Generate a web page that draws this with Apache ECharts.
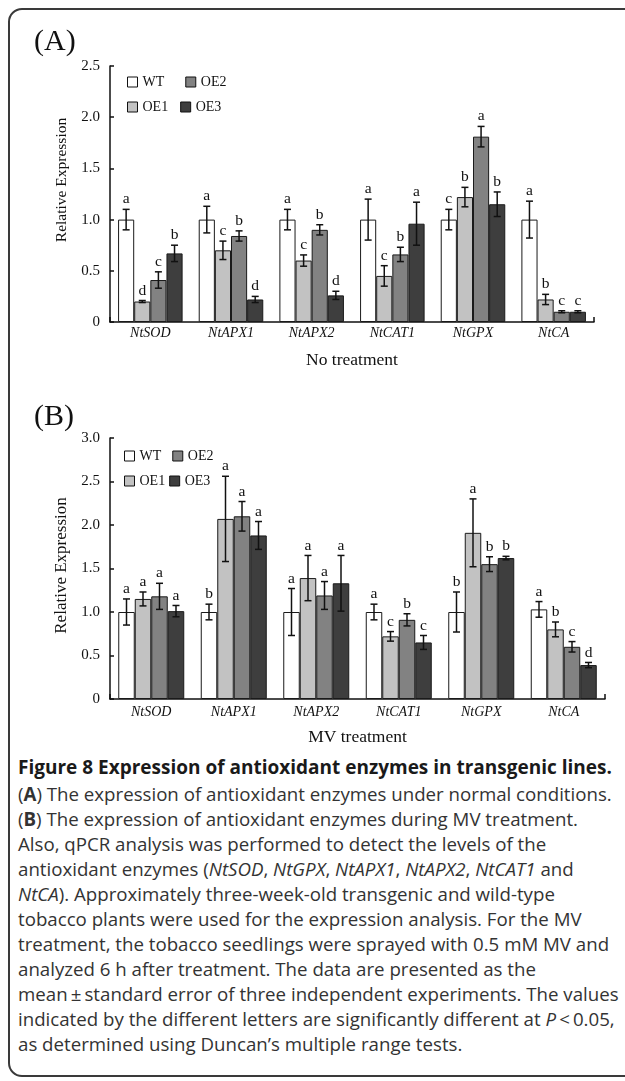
<!DOCTYPE html>
<html><head><meta charset="utf-8">
<script src="https://cdn.jsdelivr.net/npm/echarts@6/dist/echarts.min.js"></script>
<style>
html,body{margin:0;padding:0;background:#fff;width:625px;height:1081px;overflow:hidden;}
#frame{position:absolute;left:8px;top:8px;width:680px;height:1069px;border:2px solid #3a3a3a;border-radius:14px;box-sizing:border-box;}
#chart{position:absolute;left:0;top:0;width:625px;height:750px;}
#capHead{position:absolute;left:18px;top:754.5px;font-family:'Open Sans';font-weight:bold;color:#1a1a1a;white-space:nowrap;font-size:16px;line-height:25px;}
#capBody{position:absolute;left:18px;top:780.5px;font-family:'Open Sans';color:#333;white-space:nowrap;font-size:16px;line-height:25px;}
#capBody div,#capHead div{height:25px;}
</style></head><body>
<div id="frame"></div>
<div id="chart"></div>
<div id="capHead"><div><span id="hl">Figure 8 Expression of antioxidant enzymes in transgenic lines.</span></div></div>
<div id="capBody">
<div><span id="l1">(<b>A</b>) The expression of antioxidant enzymes under normal conditions.</span></div>
<div>(<b>B</b>) The expression of antioxidant enzymes during MV treatment.</div>
<div>Also, qPCR analysis was performed to detect the levels of the</div>
<div>antioxidant enzymes (<i>NtSOD</i>, <i>NtGPX</i>, <i>NtAPX1</i>, <i>NtAPX2</i>, <i>NtCAT1</i> and</div>
<div><i>NtCA</i>). Approximately three-week-old transgenic and wild-type</div>
<div>tobacco plants were used for the expression analysis. For the MV</div>
<div>treatment, the tobacco seedlings were sprayed with 0.5 mM MV and</div>
<div>analyzed 6 h after treatment. The data are presented as the</div>
<div>mean&thinsp;±&thinsp;standard error of three independent experiments. The values</div>
<div>indicated by the different letters are significantly different at <i>P</i>&thinsp;&lt;&thinsp;0.05,</div>
<div>as determined using Duncan’s multiple range tests.</div>
</div>
<script>
// ---------- data ----------
const categories = ['NtSOD', 'NtAPX1', 'NtAPX2', 'NtCAT1', 'NtGPX', 'NtCA'];
const lineNames = ['WT', 'OE1', 'OE2', 'OE3'];
const yTicksA = ['0', '0.5', '1.0', '1.5', '2.0', '2.5'];
const yTicksB = ['0', '0.5', '1.0', '1.5', '2.0', '2.5', '3.0'];

// (A) No treatment
const aWT  = [1.00, 1.00, 1.00, 1.00, 1.00, 1.00];
const aOE1 = [0.20, 0.70, 0.60, 0.45, 1.22, 0.22];
const aOE2 = [0.41, 0.84, 0.90, 0.66, 1.81, 0.10];
const aOE3 = [0.67, 0.22, 0.26, 0.96, 1.15, 0.10];
const aWTErr  = [0.10, 0.13, 0.10, 0.20, 0.10, 0.18];
const aOE1Err = [0.01, 0.09, 0.055, 0.10, 0.095, 0.05];
const aOE2Err = [0.08, 0.05, 0.05, 0.07, 0.10, 0.01];
const aOE3Err = [0.08, 0.03, 0.04, 0.21, 0.12, 0.01];
const aWTSig  = ['a', 'a', 'a', 'a', 'c', 'a'];
const aOE1Sig = ['d', 'c', 'c', 'c', 'b', 'b'];
const aOE2Sig = ['c', 'b', 'b', 'b', 'a', 'c'];
const aOE3Sig = ['b', 'd', 'd', 'a', 'b', 'c'];

// (B) MV treatment
const bWT  = [1.00, 1.00, 1.00, 1.00, 1.00, 1.03];
const bOE1 = [1.15, 2.07, 1.39, 0.72, 1.91, 0.80];
const bOE2 = [1.18, 2.10, 1.19, 0.91, 1.55, 0.60];
const bOE3 = [1.01, 1.88, 1.33, 0.65, 1.62, 0.39];
const bWTErr  = [0.15, 0.09, 0.27, 0.09, 0.23, 0.09];
const bOE1Err = [0.08, 0.49, 0.26, 0.055, 0.39, 0.085];
const bOE2Err = [0.15, 0.17, 0.16, 0.07, 0.085, 0.06];
const bOE3Err = [0.065, 0.16, 0.32, 0.08, 0.02, 0.03];
const bWTSig  = ['a', 'b', 'a', 'a', 'b', 'a'];
const bOE1Sig = ['a', 'a', 'a', 'c', 'a', 'b'];
const bOE2Sig = ['a', 'a', 'a', 'b', 'b', 'c'];
const bOE3Sig = ['a', 'a', 'a', 'c', 'b', 'd'];

const fills = ['#ffffff', '#c2c2c2', '#828282', '#3e3e3e'];

// ---------- caption fitting ----------
(function () {
  const hl = document.getElementById('hl');
  const l1 = document.getElementById('l1');
  const hw = hl.getBoundingClientRect().width;
  document.getElementById('capHead').style.fontSize = (16 * 594 / hw) + 'px';
  const bw = l1.getBoundingClientRect().width;
  document.getElementById('capBody').style.fontSize = (16 * 594 / bw) + 'px';
})();

// ---------- chart ----------
const SERIF = 'Liberation Serif';
const INK = '#111';
const GAP = 0.2;

function barSeries(name, data, color, xi) {
  return {
    type: 'bar', name: name, data: data, xAxisIndex: xi, yAxisIndex: xi,
    barCategoryGap: (GAP * 100) + '%', barGap: '0%',
    itemStyle: { color: color, borderColor: '#1a1a1a', borderWidth: 1 },
    emphasis: { disabled: true }, silent: true, z: 2
  };
}
function errSeries(vals, errs, sig, gi, xi) {
  return {
    type: 'custom', xAxisIndex: xi, yAxisIndex: xi, z: 5, silent: true,
    data: vals.map((v, i) => [i, v, errs[i]]),
    renderItem: function (params, api) {
      const ci = api.value(0), v = api.value(1), e = api.value(2);
      const c = api.coord([ci, v]);
      const band = api.size([1, 0])[0];
      const usable = band * (1 - GAP), bw = usable / lineNames.length;
      const x = c[0] - usable / 2 + bw * (gi + 0.5);
      const yt = api.coord([ci, v + e])[1], yb = api.coord([ci, v - e])[1];
      const h = 3.5;
      const st = { stroke: INK, lineWidth: 1.5 };
      return {
        type: 'group', children: [
          { type: 'line', shape: { x1: x, y1: yt, x2: x, y2: yb }, style: st },
          { type: 'line', shape: { x1: x - h, y1: yt, x2: x + h, y2: yt }, style: st },
          { type: 'line', shape: { x1: x - h, y1: yb, x2: x + h, y2: yb }, style: st },
          { type: 'text', x: x, y: yt - 2, style: { text: sig[params.dataIndex], fill: INK, fontFamily: SERIF, fontSize: 15.5, align: 'center', verticalAlign: 'bottom' } }
        ]
      };
    }
  };
}
function xAxisCfg(gi, name, margin) {
  return {
    type: 'category', gridIndex: gi, data: categories,
    name: name, nameLocation: 'middle', nameGap: 29,
    nameTextStyle: { fontFamily: SERIF, fontSize: 17.5, color: INK },
    axisLine: { show: true, lineStyle: { color: INK, width: 1.5 } },
    axisTick: { show: true, inside: true, length: 5, lineStyle: { color: INK, width: 1.5 }, interval: (i) => i === categories.length - 1 },
    axisLabel: { fontFamily: SERIF, fontStyle: 'italic', fontSize: 14, color: INK, margin: margin, interval: 0 },
    splitLine: { show: false }
  };
}
function yAxisCfg(gi, max, ticks, nameSize, pad) {
  return {
    type: 'value', gridIndex: gi, min: 0, max: max, interval: 0.5,
    name: 'Relative Expression', nameLocation: 'middle', nameGap: 32, nameRotate: 90,
    nameTextStyle: { fontFamily: SERIF, fontSize: nameSize, color: INK, padding: [0, 0, 0, pad] },
    axisLine: { show: true, lineStyle: { color: INK, width: 1.5 } },
    axisTick: { show: true, inside: true, length: 4, lineStyle: { color: INK, width: 1.5 } },
    axisLabel: { fontFamily: SERIF, fontSize: 15, color: INK, margin: 10, formatter: (v) => ticks[Math.round(v / 0.5)] },
    splitLine: { show: false }
  };
}
function legendCfg(data, left, top, gap) {
  return {
    data: data, left: left, top: top, orient: 'horizontal', padding: 0,
    itemWidth: 10, itemHeight: 10, itemGap: gap, icon: 'rect', selectedMode: false,
    itemStyle: { borderColor: '#111', borderWidth: 1 },
    textStyle: { fontFamily: SERIF, fontSize: 14, color: INK }
  };
}

const A = [aWT, aOE1, aOE2, aOE3], AE = [aWTErr, aOE1Err, aOE2Err, aOE3Err], AS = [aWTSig, aOE1Sig, aOE2Sig, aOE3Sig];
const B = [bWT, bOE1, bOE2, bOE3], BE = [bWTErr, bOE1Err, bOE2Err, bOE3Err], BS = [bWTSig, bOE1Sig, bOE2Sig, bOE3Sig];

const series = [];
lineNames.forEach((n, gi) => series.push(barSeries(n, A[gi], fills[gi], 0)));
lineNames.forEach((n, gi) => series.push(barSeries(n, B[gi], fills[gi], 1)));
lineNames.forEach((n, gi) => series.push(errSeries(A[gi], AE[gi], AS[gi], gi, 0)));
lineNames.forEach((n, gi) => series.push(errSeries(B[gi], BE[gi], BS[gi], gi, 1)));

const chart = echarts.init(document.getElementById('chart'), null, { renderer: 'canvas' });
chart.setOption({
  animation: false,
  backgroundColor: 'transparent',
  title: [
    { text: '(A)', left: 34, top: 27, padding: 0, textStyle: { fontFamily: SERIF, fontSize: 30, fontWeight: 'normal', color: INK } },
    { text: '(B)', left: 34, top: 402, padding: 0, textStyle: { fontFamily: SERIF, fontSize: 30, fontWeight: 'normal', color: INK } }
  ],
  legend: [
    legendCfg(['WT', 'OE2'], 127, 75, 21),
    legendCfg(['OE1', 'OE3'], 127, 100, 12),
    legendCfg(['WT', 'OE2'], 124, 449, 11),
    legendCfg(['OE1', 'OE3'], 124, 474, 4)
  ],
  grid: [
    { left: 110, top: 66, width: 484, height: 256 },
    { left: 110, top: 438, width: 495, height: 261 }
  ],
  xAxis: [xAxisCfg(0, 'No treatment', 4), xAxisCfg(1, 'MV treatment', 6)],
  yAxis: [yAxisCfg(0, 2.5, yTicksA, 15.5, 28), yAxisCfg(1, 3.0, yTicksB, 17, 6)],
  series: series
});
</script>
</body></html>
